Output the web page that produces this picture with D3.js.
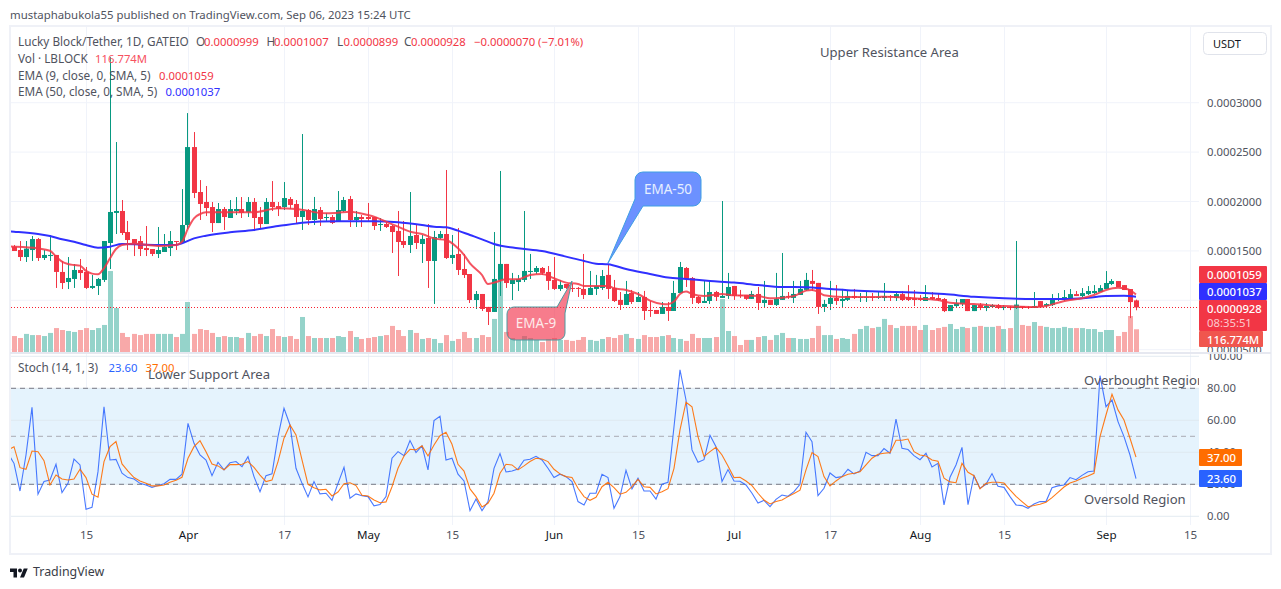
<!DOCTYPE html>
<html>
<head>
<meta charset="utf-8">
<script src="https://cdnjs.cloudflare.com/ajax/libs/d3/7.8.5/d3.min.js"></script>
<style>
body { margin: 0; background: #fff; }
text { font-family: "Noto Sans", sans-serif; }
</style>
</head>
<body>
<script>
// daily prices in units of 0.0000001, first entry is Mar 2 2023 (mostly off the pane)
const open = [1560,
1543,1509,1438,1509,1620,1428,1448,1459,1287,1185,1216,1307,1287,1125,1145,1206,1580,1884,1904,1691,1620,1600,1529,1519,1469,1489,1529,1600,1580,1762,2551,2096,1995,1944,1782,1924,1833,1904,1924,1894,1995,1843,1772,1995,1954,1944,2025,1975,
1843,1914,1813,1914,1833,1843,1793,1904,2025,1813,1843,1843,1843,1762,1772,1752,1702,1600,1560,1661,1570,1631,1398,1631,1671,1428,1469,1317,1266,1003,1064,933,882,1206,1368,1165,1185,1206,1287,1287,1327,1287,1206,1115,1165,1125,1125,1115,
1054,1115,1125,1257,1125,1004,953,1074,983,1034,902,902,862,933,892,1074,1327,1226,1034,973,993,1084,1024,1044,1145,1054,1054,1014,1064,973,1004,953,1004,1044,1024,1054,1105,1196,1176,933,963,1024,993,1004,1044,1024,1024,1034,1024,
1023,1043,1023,1063,1033,1023,1023,993,1033,1023,1013,891,942,962,1013,891,952,922,932,952,922,932,922,942,932,922,992,942,952,1003,1003,1013,1063,1043,1063,1073,1084,1114,1165,1195,1154,1114,999];
const close = [1543,
1499,1438,1523,1620,1428,1459,1459,1287,1175,1226,1307,1276,1125,1145,1216,1600,1894,1904,1681,1610,1580,1519,1509,1469,1509,1540,1600,1590,1762,2551,2086,1975,1934,1782,1924,1843,1924,1924,1884,1995,1833,1772,1995,1944,1924,2035,1965,1843,
1904,1813,1924,1823,1843,1783,1914,2015,1813,1843,1823,1823,1752,1772,1742,1691,1590,1560,1651,1580,1621,1398,1641,1671,1428,1459,1307,1256,1003,1064,912,882,1216,1368,1175,1206,1216,1297,1297,1327,1277,1196,1115,1155,1125,1115,1115,1054,
1125,1145,1246,1115,993,953,1064,983,1034,892,892,862,933,892,1074,1337,1216,1024,973,993,1084,1034,1044,1135,1044,1044,1014,1064,973,1004,953,1014,1044,1034,1064,1115,1206,1166,933,963,1024,993,1014,1044,1024,1034,1034,1024,1034,
1043,1033,1063,1003,1003,1003,1003,1033,1013,1003,891,952,972,1013,891,952,922,942,952,922,932,922,952,922,922,942,932,962,1023,1023,1033,1063,1043,1073,1094,1094,1124,1175,1195,1134,1104,982,928];
const high = [1600,
1560,1600,1600,1651,1631,1509,1661,1459,1398,1438,1367,1418,1337,1256,1226,1600,3462,2602,2015,1803,1620,1651,1752,1519,1742,1671,1701,1600,2126,2895,2703,2217,2157,1995,1985,1944,2015,2045,2045,2045,2035,1944,2035,2207,1995,2197,2045,2015,
2683,1924,2046,1944,1884,1863,2106,2046,2056,1904,1863,1985,1843,1833,1793,1762,1904,1803,2096,1772,1661,1772,1702,1702,2319,1661,1732,1469,1266,1094,1064,933,1691,2309,1368,1277,1256,1904,1469,1347,1337,1347,1438,1206,1165,1165,1135,1469,
1297,1257,1307,1368,1206,1084,1196,1105,1084,1095,993,902,983,983,1196,1388,1337,1236,1044,1196,1196,1095,2005,1277,1145,1105,1054,1095,1135,1196,1004,1277,1479,1084,1196,1196,1277,1307,1176,1004,1196,1155,1115,1105,1115,1074,1095,1074,1084,
1175,1053,1084,1094,1154,1104,1053,1154,1084,1073,1023,952,1013,1013,1013,952,972,972,962,962,952,942,1600,942,942,1084,992,972,1063,1073,1104,1114,1094,1124,1144,1154,1154,1296,1215,1195,1154,1114,1007];
const low = [1500,
1499,1398,1388,1398,1398,1408,1398,1125,1114,1114,1125,1206,1114,1114,1054,1185,1317,1671,1661,1509,1448,1448,1448,1448,1428,1489,1448,1509,1570,1722,2035,1813,1853,1691,1782,1712,1833,1863,1833,1843,1701,1722,1772,1904,1853,1914,1924,1772,
1712,1762,1762,1752,1793,1772,1793,1894,1742,1742,1742,1793,1712,1702,1732,1479,1246,1530,1479,1519,1378,1125,963,1621,1418,1368,1256,1226,973,912,892,750,882,1044,1125,1003,1094,1185,1216,1266,1256,1105,1105,1094,1115,1084,1034,1013,
1054,1054,1105,1014,983,902,953,963,983,801,832,862,862,791,892,1074,1135,963,963,973,963,993,1024,1014,1004,1024,1004,1014,902,923,953,943,1004,1014,973,1054,1095,1095,862,882,902,953,923,993,1014,983,983,993,1014,
993,993,993,993,993,942,993,993,1003,993,881,891,922,942,891,891,901,891,932,912,901,901,912,912,912,922,932,932,942,993,993,1003,1043,1033,1053,1063,1084,1114,1154,1134,1104,820,899];
// volume in millions of LBLOCK
const volume = [77,
82,72,93,87,87,82,98,123,113,108,103,113,123,113,123,139,416,226,98,77,93,87,93,93,93,93,93,77,93,257,93,118,113,98,77,82,77,77,72,98,82,93,82,118,82,77,82,67,
180,82,72,72,72,72,82,77,108,77,67,72,77,82,87,134,113,82,113,98,67,72,67,46,87,57,67,103,72,72,87,77,170,370,103,72,62,82,72,62,51,67,72,62,62,57,62,77,
62,57,67,77,72,87,93,72,67,87,77,77,82,87,72,67,57,93,72,72,72,77,272,108,82,36,62,62,77,82,62,87,98,72,72,67,67,72,134,87,87,67,72,67,93,118,134,123,129,
170,139,123,134,134,134,113,139,113,123,129,144,118,129,123,129,134,129,129,134,118,123,247,139,134,154,134,129,123,123,129,123,123,123,118,118,103,113,113,82,103,185,116.774];

// moving averages read at these days (days after Mar 3 2023)
const ema9Days = [-1,0,4,6,7,8,9,10,11,12,13,14,15,16,17,18,20,24,27,28,29,30,31,32,36,40,44,47,52,54,56,59,60,62,64,66,68,70,72,74,75,76,78,79,80,82,84,86,88,90,92,94,95,97,99,100,102,104,106,108,109,110,111,112,113,115,118,120,124,126,128,130,132,133,134,135,138,144,145,150,154,156,160,165,170,172,174,176,178,180,182,184,185,186,187];
const ema9 = [1545,1543,1526,1502,1442,1391,1367,1357,1351,1297,1270,1263,1324,1425,1519,1560,1573,1550,1560,1593,1728,1830,1873,1890,1890,1890,1931,1924,1880,1887,1897,1863,1847,1796,1745,1695,1671,1627,1610,1526,1459,1374,1256,1165,1179,1212,1212,1256,1266,1223,1179,1165,1145,1145,1145,1122,1105,1064,997,963,960,987,1064,1088,1064,1044,1064,1051,1044,1020,1027,1044,1098,1105,1088,1051,1034,1034,1036,1020,1003,976,962,942,932,942,976,1003,1020,1053,1104,1127,1121,1104,1059];
const ema50Days = [-1,0,4,6,8,10,12,14,16,18,24,27,28,30,32,36,40,44,47,48,54,60,64,68,70,72,74,76,78,80,84,88,92,95,97,99,102,106,109,112,116,120,124,128,132,136,140,144,150,155,160,165,170,175,179,182,185,187];
const ema50 = [1700,1695,1671,1651,1617,1593,1560,1533,1543,1570,1560,1560,1577,1627,1654,1688,1712,1752,1776,1786,1799,1799,1789,1762,1745,1739,1705,1661,1617,1570,1526,1499,1442,1398,1371,1364,1317,1267,1230,1216,1196,1179,1155,1135,1132,1115,1098,1088,1080,1063,1036,1020,1013,1013,1026,1043,1047,1037];

const stochK = [39.4,
33.1,15.8,38.3,68.1,13.8,21.7,22.7,32.5,14.8,20.6,35.8,32.1,4.4,5.6,27.9,68.5,35.2,35.6,26.9,24.2,23.3,20.6,19.6,18.1,19.2,20.4,23.1,23.1,26.3,58.1,45.6,38.3,35.2,25.4,33.8,29.0,33.5,34.2,31.0,37.3,24.8,15.4,25.4,26.5,49.8,67.5,57.1,30.0,
20.6,12.1,21.7,14.0,14.4,10.0,20.6,30.6,11.3,14.0,12.9,12.3,6.5,7.3,12.3,36.3,40.4,37.9,47.3,39.8,44.0,29.0,59.8,62.5,35.2,36.3,26.3,22.1,3.5,10.8,3.5,9.2,30.0,39.2,27.7,28.3,29.6,35.0,35.6,37.5,35.2,30.0,24.2,26.3,24.8,21.7,9.2,7.1,
14.4,14.4,26.3,24.2,5.0,12.3,28.8,17.1,23.8,15.8,15.8,10.8,20.0,21.3,56.0,91.5,72.7,41.5,33.8,35.4,50.6,43.5,21.7,29.2,22.1,21.9,19.6,14.4,8.3,10.0,6.0,10.6,13.3,12.5,15.4,20.0,52.5,46.7,12.9,17.5,27.1,24.2,24.8,29.4,26.5,28.3,40.0,37.9,37.9,
42.3,39.4,60.8,42.5,41.7,37.9,35.4,39.4,30.8,33.1,7.1,24.4,32.1,43.1,7.3,25.4,17.5,20.0,26.7,18.8,18.1,12.3,7.1,6.7,5.0,7.7,9.2,9.2,17.9,19.0,19.6,24.2,22.9,25.6,27.9,28.3,87.9,68.5,72.7,59.2,49.8,38.3,23.6];
const stochD = [41.5,
43.5,30.4,29.4,40.8,40.4,34.8,19.6,25.8,23.3,22.7,23.3,29.4,24.2,13.8,11.9,34.2,43.5,46.7,32.7,28.3,24.2,22.1,20.6,19.0,19.0,19.6,21.3,22.5,24.4,36.3,43.5,47.3,40.4,32.7,31.5,29.0,32.3,32.3,32.5,34.2,30.6,25.8,21.7,22.7,34.2,48.8,57.1,50.8,
35.2,20.0,17.9,16.5,16.9,12.7,15.2,20.4,21.0,19.2,13.1,12.7,10.2,8.5,9.0,18.5,30.0,37.7,41.9,41.5,44.0,37.7,44.6,50.4,52.5,45.0,32.5,28.3,17.1,12.3,5.8,8.1,14.4,26.9,32.5,32.1,29.0,31.5,34.2,36.3,35.8,34.2,29.4,26.5,24.8,24.2,17.5,12.3,
10.0,11.9,18.5,21.3,17.9,13.8,15.0,18.5,23.1,18.5,18.1,14.0,15.4,17.3,30.0,54.0,71.3,68.5,49.8,37.3,40.4,43.1,38.3,31.5,24.2,24.4,22.1,19.2,14.4,10.2,7.7,9.2,10.2,12.3,14.2,16.3,29.0,39.8,37.3,24.8,19.0,22.1,24.8,26.3,26.9,27.9,32.1,36.3,38.8,
39.4,39.8,47.5,47.5,48.3,40.4,38.3,37.7,35.2,34.4,23.8,21.5,21.0,33.1,27.5,25.4,17.1,20.6,21.3,21.3,20.8,16.5,12.5,9.2,6.0,6.7,7.5,8.8,11.7,15.0,18.3,20.8,22.1,23.8,25.2,26.9,49.8,63.3,76.3,66.5,60.2,48.8,37.0];

const timeTicks = ['2023-03-15','2023-04-01','2023-04-17','2023-05-01','2023-05-15','2023-06-01','2023-06-15','2023-07-01','2023-07-17','2023-08-01','2023-08-15','2023-09-01','2023-09-15'];
const timeLabels = ['15','Apr','17','May','15','Jun','15','Jul','17','Aug','15','Sep','15'];
const priceTicks = [500,1000,1500,2000,2500,3000];
const stochTicks = [0,20,40,60,80,100];

const width = 1281, height = 589;
const paneLeft = 11, paneRight = 1199, paneTop = 27, paneBottom = 352, stochTop = 354, stochBottom = 525;
const green = '#089981', red = '#f23645', textColor = '#50535e', gridColor = '#f0f3fa';
const numSize = 11.3, txtSize = 11.75;

const day0 = Date.UTC(2023, 2, 3);
const dayMs = 86400000;
const x = d3.scaleUtc().domain([day0, Date.UTC(2023, 8, 15)]).range([14, 1190]);
const xDay = d => x(new Date(day0 + d * dayMs));
const yPrice = d3.scaleLinear().domain([1000, 3000]).range([300.3, 102.7]);
const yVol = d3.scaleLinear().domain([0, 500]).range([352, 254.7]);
const yStoch = d3.scaleLinear().domain([0, 100]).range([516.3, 356.3]);
const priceFmt = d => (d * 1e-7).toFixed(7);

const candles = open.map((o, k) => ({day: k - 1, o: o, h: high[k], l: low[k], c: close[k], v: volume[k]}));

const svg = d3.select('body').append('svg').attr('width', width).attr('height', height).style('display', 'block');

const defs = svg.append('defs');
const addClip = (id, cx, cy, w, h) => defs.append('clipPath').attr('id', id).append('rect')
    .attr('x', cx).attr('y', cy).attr('width', w).attr('height', h);
addClip('mainClip', paneLeft, paneTop, paneRight - paneLeft, paneBottom - paneTop);
addClip('stochClip', paneLeft, stochTop, paneRight - paneLeft, stochBottom - stochTop);
addClip('stochAxisClip', paneRight, stochTop, 70, stochBottom - stochTop);
addClip('priceAxisClip', paneRight, paneTop, 70, paneBottom - paneTop);

// frame
svg.append('rect').attr('x', 10).attr('y', 26).attr('width', 1261).attr('height', 528)
    .attr('fill', 'none').attr('stroke', '#eff1f7').attr('stroke-width', 2);
svg.append('line').attr('x1', 10).attr('x2', 1271).attr('y1', 353).attr('y2', 353)
    .attr('stroke', '#e6e8f0').attr('stroke-width', 2);

// grid
const grid = svg.append('g');
grid.selectAll('.vm').data(timeTicks).join('line').attr('class', 'vm')
    .attr('x1', d => x(new Date(d)) + 0.5).attr('x2', d => x(new Date(d)) + 0.5)
    .attr('y1', paneTop).attr('y2', paneBottom).attr('stroke', gridColor);
grid.selectAll('.vs').data(timeTicks).join('line').attr('class', 'vs')
    .attr('x1', d => x(new Date(d)) + 0.5).attr('x2', d => x(new Date(d)) + 0.5)
    .attr('y1', stochTop).attr('y2', stochBottom).attr('stroke', gridColor);
grid.selectAll('.hm').data(priceTicks).join('line').attr('class', 'hm')
    .attr('x1', paneLeft).attr('x2', paneRight)
    .attr('y1', d => yPrice(d)).attr('y2', d => yPrice(d)).attr('stroke', gridColor);

// stoch band and levels
const stochPane = svg.append('g').attr('clip-path', 'url(#stochClip)');
stochPane.append('rect').attr('x', paneLeft).attr('width', paneRight - paneLeft)
    .attr('y', yStoch(80)).attr('height', yStoch(20) - yStoch(80)).attr('fill', '#e5f3fd');
stochPane.selectAll('.hs').data(stochTicks).join('line').attr('class', 'hs')
    .attr('x1', paneLeft).attr('x2', paneRight)
    .attr('y1', d => yStoch(d)).attr('y2', d => yStoch(d)).attr('stroke', '#dde6ef').attr('stroke-opacity', 0.8);
stochPane.selectAll('.lv').data([80, 50, 20]).join('line').attr('class', 'lv')
    .attr('x1', paneLeft).attr('x2', paneRight)
    .attr('y1', d => yStoch(d)).attr('y2', d => yStoch(d))
    .attr('stroke', d => d === 50 ? '#a9abb3' : '#787b86').attr('stroke-dasharray', '5 4');

const stochLine = d3.line().x((d, k) => xDay(k - 1)).y(d => yStoch(d));
stochPane.append('path').attr('d', stochLine(stochK)).attr('fill', 'none').attr('stroke', '#2962ff').attr('stroke-width', 1.1).attr('stroke-opacity', 0.85);
stochPane.append('path').attr('d', stochLine(stochD)).attr('fill', 'none').attr('stroke', '#ff6d00').attr('stroke-width', 1.1).attr('stroke-opacity', 0.9);

// main pane
const main = svg.append('g').attr('clip-path', 'url(#mainClip)');
main.selectAll('.vol').data(candles).join('rect').attr('class', 'vol')
    .attr('x', d => Math.floor(xDay(d.day)) - 2).attr('width', 5)
    .attr('y', d => yVol(d.v)).attr('height', d => yVol(0) - yVol(d.v))
    .attr('fill', d => d.c >= d.o ? '#95d3ca' : '#f8a9a9');
main.selectAll('.wick').data(candles).join('rect').attr('class', 'wick')
    .attr('x', d => Math.floor(xDay(d.day))).attr('width', 1)
    .attr('y', d => yPrice(d.h)).attr('height', d => yPrice(d.l) - yPrice(d.h))
    .attr('fill', d => d.c >= d.o ? green : red);
main.selectAll('.body').data(candles).join('rect').attr('class', 'body')
    .attr('x', d => Math.floor(xDay(d.day)) - 2).attr('width', 5)
    .attr('y', d => yPrice(Math.max(d.o, d.c)))
    .attr('height', d => Math.max(1, Math.abs(yPrice(d.o) - yPrice(d.c))))
    .attr('fill', d => d.c >= d.o ? green : red);

const emaLine = days => d3.line().x((d, k) => xDay(days[k])).y(d => yPrice(d)).curve(d3.curveMonotoneX);
main.append('path').attr('d', emaLine(ema50Days)(ema50)).attr('fill', 'none').attr('stroke', '#3030ff').attr('stroke-width', 2);
main.append('path').attr('d', emaLine(ema9Days)(ema9)).attr('fill', 'none').attr('stroke', '#f23645').attr('stroke-width', 2).attr('stroke-opacity', 0.85);

// last price line
const lastY = Math.round(yPrice(close[close.length - 1])) + 0.5;
main.append('line').attr('x1', paneLeft).attr('x2', paneRight).attr('y1', lastY).attr('y2', lastY)
    .attr('stroke', '#f7202f').attr('stroke-width', 1).attr('stroke-dasharray', '1 2');

// time axis
const timeAxis = svg.append('g').attr('transform', `translate(0,${stochBottom + 3})`)
    .call(d3.axisBottom(x).tickValues(timeTicks.map(d => new Date(d))).tickSize(0)
        .tickFormat((d, k) => timeLabels[k]));
timeAxis.select('.domain').remove();
timeAxis.selectAll('text').attr('font-size', 11.6).attr('fill', (d, k) => isNaN(+timeLabels[k]) ? '#131722' : textColor)
    .style('font-family', '"Noto Sans", sans-serif');

// price and stoch axes
const styleAxis = g => {
    g.select('.domain').remove();
    g.selectAll('text').attr('font-size', numSize).attr('fill', textColor).style('font-family', '"Noto Sans", sans-serif');
};
svg.append('g').attr('clip-path', 'url(#priceAxisClip)').append('g').attr('transform', `translate(${paneRight},0)`)
    .call(d3.axisRight(yPrice).tickValues(priceTicks).tickSize(0).tickFormat(priceFmt).tickPadding(8)).call(styleAxis);
svg.append('g').attr('clip-path', 'url(#stochAxisClip)').append('g').attr('transform', `translate(${paneRight},0)`)
    .call(d3.axisRight(yStoch).tickValues(stochTicks).tickSize(0).tickFormat(d3.format('.2f')).tickPadding(8)).call(styleAxis);

// axis value tags
const tags = [
    {y: 266, h: 17, w: 68, fill: red, label: priceFmt(ema9[ema9.length - 1])},
    {y: 283, h: 17, w: 68, fill: '#3030ff', label: priceFmt(ema50[ema50.length - 1])},
    {y: 300, h: 31, w: 68, fill: red, label: priceFmt(close[close.length - 1]), sub: '08:35:51'},
    {y: 331, h: 16, w: 64, fill: '#f0564e', label: volume[volume.length - 1] + 'M'},
    {y: 449, h: 17, w: 43, fill: '#ff6d00', label: stochD[stochD.length - 1].toFixed(2)},
    {y: 470, h: 17, w: 43, fill: '#2962ff', label: stochK[stochK.length - 1].toFixed(2)}
];
const tag = svg.selectAll('.tag').data(tags).join('g').attr('class', 'tag');
tag.append('rect').attr('x', paneRight).attr('y', d => d.y).attr('width', d => d.w).attr('height', d => d.h)
    .attr('rx', 1).attr('fill', d => d.fill);
tag.append('text').attr('x', paneRight + 8).attr('y', d => d.y + 13).attr('font-size', numSize).attr('font-weight', 500)
    .attr('fill', '#fff').text(d => d.label);
tag.filter(d => d.sub).append('text').attr('x', paneRight + 8).attr('y', d => d.y + 27).attr('font-size', numSize)
    .attr('fill', '#fbc9cd').text(d => d.sub);

// USDT button
svg.append('rect').attr('x', 1203.5).attr('y', 32.5).attr('width', 63).attr('height', 22).attr('rx', 4)
    .attr('fill', '#fff').attr('stroke', '#e0e3eb');
svg.append('text').attr('x', 1213).attr('y', 47.5).attr('font-size', 11).attr('fill', '#131722').text('USDT');

// legend: [text, x, colour, numeric]
const legendRows = [
    {y: 46, parts: [['Lucky Block/Tether, 1D, GATEIO', 18], ['O', 196], ['0.0000999', 204, red, 1], ['H', 266.5], ['0.0001007', 274, red, 1],
        ['L', 337], ['0.0000899', 343.5, red, 1], ['C', 404], ['0.0000928', 411, red, 1], ['\u22120.0000070 (\u22127.01%)', 474, red, 1]]},
    {y: 63, parts: [['Vol \u00b7 LBLOCK', 18], ['116.774M', 95, '#f7525f', 1]]},
    {y: 80, parts: [['EMA (9, close, 0, SMA, 5)', 18], ['0.0001059', 159, red, 1]]},
    {y: 96, parts: [['EMA (50, close, 0, SMA, 5)', 18], ['0.0001037', 165.5, '#3030ff', 1]]},
    {y: 372, parts: [['Stoch (14, 1, 3)', 18], ['23.60', 108.5, '#2962ff', 1], ['37.00', 145.5, '#ff6d00', 1]]}
];
legendRows.forEach(row => {
    svg.append('g').selectAll('text').data(row.parts).join('text')
        .attr('x', d => d[1]).attr('y', row.y).attr('font-size', d => d[3] ? numSize : txtSize)
        .attr('fill', d => d[2] || textColor).text(d => d[0]);
});
svg.append('text').attr('x', 10).attr('y', 19).attr('font-size', 11.4).attr('fill', textColor)
    .text('mustaphabukola55 published on TradingView.com, Sep 06, 2023 15:24 UTC');

// chart notes
const notes = [
    ['Upper Resistance Area', 820, 57],
    ['Lower Support Area', 148, 379],
    ['Overbought Region', 1084, 385],
    ['Oversold Region', 1084, 504]
];
svg.append('g').selectAll('.note').data(notes).join('text').attr('class', 'note')
    .attr('x', d => d[1]).attr('y', d => d[2]).attr('font-size', 13.1).attr('fill', textColor).text(d => d[0])
    .filter(d => d[2] > 354).attr('clip-path', 'url(#stochClip)');

// callouts
svg.append('path')
    .attr('d', 'M643 172H693a8 8 0 0 1 8 8V198a8 8 0 0 1 -8 8H643L608 263L635 199V180a8 8 0 0 1 8-8Z')
    .attr('fill', '#6c91ff').attr('stroke', '#3f9fe3').attr('stroke-width', 1);
svg.append('text').attr('x', 668).attr('y', 194).attr('text-anchor', 'middle').attr('font-size', 13.5).attr('fill', '#e6efff').text('EMA-50');
svg.append('path')
    .attr('d', 'M514 307H557L572 281L565 313V333a7 7 0 0 1 -7 7H514a7 7 0 0 1 -7 -7V314a7 7 0 0 1 7-7Z')
    .attr('fill', '#f2364f').attr('fill-opacity', 0.65).attr('stroke', '#4d9aa0').attr('stroke-width', 1);
svg.append('text').attr('x', 536).attr('y', 328).attr('text-anchor', 'middle').attr('font-size', 13.5).attr('fill', '#fdeaea').text('EMA-9');

// footer logo
const logo = svg.append('g').attr('transform', 'translate(10,566.5) scale(0.5)').attr('fill', '#131722');
logo.append('path').attr('d', 'M14 22H7V11H0V4h14v18zM28 22h-8l7.5-18h8L28 22z');
logo.append('circle').attr('cx', 20).attr('cy', 8).attr('r', 4);
svg.append('text').attr('x', 33).attr('y', 576).attr('font-size', 12.4).attr('fill', '#3a3d47').text('TradingView');
</script>
</body>
</html>
